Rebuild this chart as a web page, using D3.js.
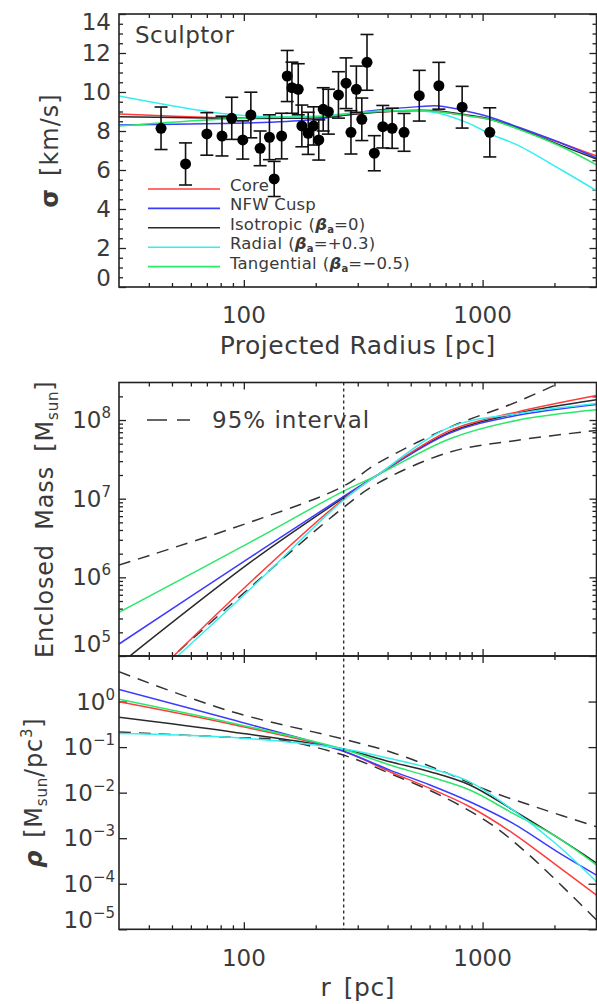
<!DOCTYPE html>
<html><head><meta charset="utf-8">
<script src="https://cdn.jsdelivr.net/npm/d3@7"></script>
<style>
body{margin:0;background:#fff}
text{font-family:"DejaVu Sans",sans-serif;fill:#3a3a3a}
</style>
</head><body>
<svg id="c" width="597" height="1004"></svg>
<script>
// ---------- DATA ----------
// Panel 1: projected velocity dispersion (Sculptor)
const sigmaRadius = [45,57,70,81,89,99,107,117,128,134,144,152,159,169,175,186,196,206,215,226,249,268,281,296,312,328,352,382,418,469,543,656,821,1072];
const sigmaValue  = [8.14,6.31,7.85,7.74,8.65,7.54,8.82,7.11,7.68,5.54,7.74,10.82,10.22,10.14,8.26,7.88,8.26,7.54,9.11,8.99,9.85,10.45,7.93,10.14,8.60,11.52,6.86,8.22,8.14,7.93,9.81,10.32,9.22,7.93];
const sigmaError  = [1.09,1.08,1.09,1.02,1.08,0.98,1.17,0.89,1.15,0.90,1.17,1.31,1.31,1.31,1.07,1.08,0.98,1.03,1.11,1.15,1.19,1.30,1.11,1.19,1.09,1.43,0.90,1.09,1.03,0.97,1.30,1.20,1.07,1.26];

const sigmaGrid = [30,79,128,207,335,542,656,876,1062,1416,2141,3000];
const sigmaCore = [8.87,8.68,8.64,8.70,8.94,9.04,8.99,8.77,8.60,8.14,7.37,6.72];
const sigmaNFW  = [8.31,8.39,8.45,8.62,9.03,9.25,9.28,8.99,8.73,8.19,7.37,6.62];
const sigmaIso  = [8.73,8.66,8.66,8.68,8.94,9.06,9.03,8.81,8.63,8.12,7.25,6.56];
const sigmaRad  = [9.79,8.91,8.73,8.77,8.99,9.04,8.91,8.39,7.88,7.25,6.00,4.94];
const sigmaTan  = [8.26,8.60,8.70,8.73,8.99,9.04,8.99,8.77,8.60,8.09,7.19,6.26];

// Panel 2: enclosed mass
const massGrid  = [30,107,258,361,730,1385,3000];
const massCore  = [2.07e4,8.77e5,9.55e6,1.98e7,7.38e7,1.26e8,2.05e8];
const massNFW   = [1.42e5,1.82e6,1.04e7,1.98e7,6.82e7,1.14e8,1.58e8];
const massIso   = [7.76e4,1.57e6,1.00e7,1.98e7,7.01e7,1.21e8,1.81e8];
const massRad   = [2.09e4,7.23e5,9.27e6,1.98e7,8.13e7,1.20e8,1.62e8];
const massTan   = [3.59e5,2.82e6,1.22e7,1.98e7,5.79e7,9.89e7,1.35e8];
const massHi    = [1.43e6,5.06e6,1.41e7,2.79e7,8.13e7,1.69e8,4.89e8];
const massLo    = [2.40e4,7.57e5,7.48e6,1.55e7,3.92e7,5.51e7,7.38e7];

// Panel 3: density
const rhoGrid   = [30,88,253,409,602,884,1341,2035,3000];
const rhoCore   = [0.990,0.321,0.0861,0.0288,0.0124,0.0049,0.00128,2.57e-4,5.65e-5];
const rhoNFW    = [1.85,0.407,0.0861,0.0313,0.0147,0.00631,0.00212,5.22e-4,1.55e-4];
const rhoIso    = [0.45,0.217,0.0939,0.0477,0.0288,0.0147,0.00415,0.00108,2.85e-4];
const rhoRad    = [0.20,0.164,0.0939,0.0561,0.0342,0.0173,0.00415,7.44e-4,1.11e-4];
const rhoTan    = [1.12,0.343,0.0939,0.0404,0.0223,0.0114,0.00351,0.00108,2.57e-4];
const rhoHiGrid = [30,88,253,409,661,1039,1738,3000];
const rhoHi     = [4.51,0.609,0.156,0.0791,0.0313,0.0114,0.00452,0.00178];
const rhoLoGrid = [30,88,142,261,409,684,1072,1567,3000];
const rhoLo     = [0.214,0.164,0.143,0.0669,0.0265,0.00813,0.00212,4.27e-4,1.6e-5];

const rHalf = 262; // dotted vertical line (pc)

const modelNames = ["Core","NFW Cusp","Isotropic","Radial","Tangential"];
const betaLabels = [null,null,"=0","=+0.3","=\u22120.5"];
const xTickLabels = [100,1000];
const sigmaTicks = [0,2,4,6,8,10,12,14];
const massTickExp = [5,6,7,8];
const rhoTickExp = [0,-1,-2,-3,-4,-5];

// ---------- LAYOUT ----------
const colors = ["#ff3c3c","#3c3cff","#2a2a2a","#36eeee","#2ae86a"];
const X0 = 119, X1 = 596.5;
const P1 = {top:14, bottom:287}, P2 = {top:382.5, bottom:656}, P3 = {top:656, bottom:929.3};
const svg = d3.select("#c");
const x = d3.scaleLog().domain([30,3000]).range([X0,X1]);
const ySig = d3.scaleLinear().domain([0,14]).range([P1.bottom,P1.top]);
const yMass = d3.scaleLog().domain([1e5,3e8]).range([P2.bottom,P2.top]);
const yRho = d3.scaleLog().domain([1e-5,10]).range([P3.bottom,P3.top]);
const AX = "#222";

function clip(id,p){
  svg.append("clipPath").attr("id",id).append("rect")
    .attr("x",X0).attr("y",p.top).attr("width",X1-X0).attr("height",p.bottom-p.top);
}
clip("c1",P1); clip("c2",P2); clip("c3",P3);

const xMajor=[100,1000], xMinor=[40,50,60,70,80,90,200,300,400,500,600,700,800,900,2000];
function xTicks(p){
  [[xMajor,7],[xMinor,4]].forEach(([vals,len])=>{
    svg.append("g").attr("transform",`translate(0,${p.bottom})`)
      .call(d3.axisBottom(x).tickValues(vals).tickSize(-len).tickFormat(""))
      .call(g=>{g.select(".domain").remove();g.selectAll("line").attr("stroke",AX).attr("stroke-width",1.3);});
    svg.append("g").attr("transform",`translate(0,${p.top})`)
      .call(d3.axisTop(x).tickValues(vals).tickSize(-len).tickFormat(""))
      .call(g=>{g.select(".domain").remove();g.selectAll("line").attr("stroke",AX).attr("stroke-width",1.3);});
  });
}
function yTicks(scale,major,minor,lenMaj){
  [[major,lenMaj],[minor,4]].forEach(([vals,len])=>{
    if(!vals.length) return;
    svg.append("g").attr("transform",`translate(${X0},0)`)
      .call(d3.axisLeft(scale).tickValues(vals).tickSize(-len).tickFormat(""))
      .call(g=>{g.select(".domain").remove();g.selectAll("line").attr("stroke",AX).attr("stroke-width",1.3);});
    svg.append("g").attr("transform",`translate(${X1},0)`)
      .call(d3.axisRight(scale).tickValues(vals).tickSize(-len).tickFormat(""))
      .call(g=>{g.select(".domain").remove();g.selectAll("line").attr("stroke",AX).attr("stroke-width",1.3);});
  });
}
function frame(p){
  svg.append("rect").attr("x",X0).attr("y",p.top).attr("width",X1-X0).attr("height",p.bottom-p.top)
    .attr("fill","none").attr("stroke",AX).attr("stroke-width",1.6);
}
function curve(grid,vals,ys,clipId,color,dash,w){
  const line = d3.line().x(d=>x(d[0])).y(d=>ys(d[1])).curve(d3.curveCatmullRom.alpha(0.5));
  svg.append("path").attr("d",line(grid.map((r,i)=>[r,vals[i]])))
    .attr("fill","none").attr("stroke",color).attr("stroke-width",w||1.5)
    .attr("stroke-dasharray",dash||null).attr("clip-path",`url(#${clipId})`);
}

// ---------- PANEL 1 ----------
xTicks(P1);
yTicks(ySig,sigmaTicks,d3.range(0.5,14,0.5).filter(v=>v%2!==0),7);
[sigmaCore,sigmaNFW,sigmaIso,sigmaRad,sigmaTan].forEach((s,i)=>curve(sigmaGrid,s,ySig,"c1",colors[i]));
const pts = svg.append("g");
sigmaRadius.forEach((r,i)=>{
  const cx=x(r), y0=ySig(sigmaValue[i]-sigmaError[i]), y1=ySig(sigmaValue[i]+sigmaError[i]);
  pts.append("line").attr("x1",cx).attr("x2",cx).attr("y1",y0).attr("y2",y1).attr("stroke","#111").attr("stroke-width",1.6);
  [y0,y1].forEach(yy=>pts.append("line").attr("x1",cx-6.5).attr("x2",cx+6.5).attr("y1",yy).attr("y2",yy).attr("stroke","#111").attr("stroke-width",1.6));
  pts.append("circle").attr("cx",cx).attr("cy",ySig(sigmaValue[i])).attr("r",5.5).attr("fill","#000");
});
frame(P1);
svg.append("text").attr("x",135).attr("y",43).attr("font-size",23).attr("letter-spacing",0.5).text("Sculptor");
// legend
modelNames.forEach((n,i)=>{
  const ly = 189 + i*19.4;
  svg.append("line").attr("x1",148).attr("x2",220).attr("y1",ly).attr("y2",ly).attr("stroke",colors[i]).attr("stroke-width",1.6);
  const t = svg.append("text").attr("x",230).attr("y",ly+2).attr("font-size",16.5).attr("letter-spacing",0.2);
  t.append("tspan").text(n);
  if(betaLabels[i]){
    t.append("tspan").attr("dx",6).text("(");
    t.append("tspan").attr("font-weight","bold").attr("font-style","italic").text("\u03b2");
    t.append("tspan").attr("font-size",10).attr("font-weight","bold").attr("dy",3).text("a");
    t.append("tspan").attr("dy",-3).text(betaLabels[i]+")");
  }
});
sigmaTicks.forEach(v=>{
  let yy = ySig(v)+8;
  if(v===0) yy -= 9; if(v===14) yy += 8;
  svg.append("text").attr("x",111).attr("y",yy).attr("text-anchor","end").attr("font-size",23).text(v);
});
xTickLabels.forEach(v=>svg.append("text").attr("x",x(v)).attr("y",P1.bottom+36).attr("text-anchor","middle").attr("font-size",23).text(v));
svg.append("text").attr("x",(X0+X1)/2).attr("y",P1.bottom+67).attr("text-anchor","middle").attr("font-size",25).attr("letter-spacing",0.5).text("Projected Radius [pc]");
{
  const t = svg.append("text").attr("transform",`translate(58,${(P1.top+P1.bottom)/2}) rotate(-90)`).attr("text-anchor","middle").attr("font-size",24).attr("letter-spacing",1);
  t.append("tspan").attr("font-weight","bold").text("\u03c3");
  t.append("tspan").attr("dx",12).text("[km/s]");
}

// ---------- PANEL 2 ----------
const massMinor=[];
[1e5,1e6,1e7,1e8].forEach(d=>d3.range(2,10).forEach(k=>{if(d*k<3e8) massMinor.push(d*k);}));
xTicks(P2);
yTicks(yMass,[1e5,1e6,1e7,1e8],massMinor,7);
curve(massGrid,massHi,yMass,"c2","#333","12,8",1.5);
curve(massGrid,massLo,yMass,"c2","#333","12,8",1.5);
[massIso,massNFW,massTan,massCore,massRad].forEach((m,j)=>{
  const idx=[2,1,4,0,3][j];
  curve(massGrid,m,yMass,"c2",colors[idx]);
});
frame(P2);
massTickExp.forEach(e=>{
  let yy = yMass(Math.pow(10,e))+8; if(e===5) yy-=12;
  const t=svg.append("text").attr("x",111).attr("y",yy).attr("text-anchor","end").attr("font-size",23);
  t.append("tspan").text("10");
  t.append("tspan").attr("dy",-10).attr("font-size",15).text(e);
});
svg.append("line").attr("x1",147).attr("x2",190).attr("y1",420).attr("y2",420).attr("stroke","#333").attr("stroke-width",1.5).attr("stroke-dasharray","20,10");
svg.append("text").attr("x",212).attr("y",428).attr("font-size",23).attr("letter-spacing",1).text("95% interval");
{
  const t = svg.append("text").attr("transform",`translate(53,${(P2.top+P2.bottom)/2}) rotate(-90)`).attr("text-anchor","middle").attr("font-size",24).attr("letter-spacing",0.8).attr("word-spacing",6);
  t.append("tspan").text("Enclosed Mass [M");
  t.append("tspan").attr("font-size",15).attr("dy",5).text("sun");
  t.append("tspan").attr("dy",-5).text("]");
}

// ---------- PANEL 3 ----------
xTicks(P3);
yTicks(yRho,rhoTickExp.map(e=>Math.pow(10,e)),[],8);
curve(rhoHiGrid,rhoHi,yRho,"c3","#333","12,8",1.5);
curve(rhoLoGrid,rhoLo,yRho,"c3","#333","12,8",1.5);
[rhoIso,rhoCore,rhoNFW,rhoTan,rhoRad].forEach((m,j)=>{
  const idx=[2,0,1,4,3][j];
  curve(rhoGrid,m,yRho,"c3",colors[idx]);
});
frame(P3);
svg.append("line").attr("x1",x(rHalf)).attr("x2",x(rHalf)).attr("y1",P2.top).attr("y2",P3.bottom)
  .attr("stroke","#222").attr("stroke-width",1.3).attr("stroke-dasharray","3,3");
rhoTickExp.forEach(e=>{
  let yy = yRho(Math.pow(10,e))+8; if(e===-5) yy-=9;
  const t=svg.append("text").attr("x",115).attr("y",yy).attr("text-anchor","end").attr("font-size",23);
  t.append("tspan").text("10");
  t.append("tspan").attr("dy",-10).attr("font-size",15).text(e===0?"0":"\u2212"+(-e));
});
xTickLabels.forEach(v=>svg.append("text").attr("x",x(v)).attr("y",P3.bottom+37).attr("text-anchor","middle").attr("font-size",23).text(v));
svg.append("text").attr("x",(X0+X1)/2).attr("y",P3.bottom+67).attr("text-anchor","middle").attr("font-size",25).attr("letter-spacing",0.5).attr("word-spacing",4).text("r [pc]");
{
  const t = svg.append("text").attr("transform",`translate(42,${(P3.top+P3.bottom)/2}) rotate(-90)`).attr("text-anchor","middle").attr("font-size",24).attr("letter-spacing",0.8);
  t.append("tspan").attr("font-weight","bold").attr("font-style","italic").text("\u03c1");
  t.append("tspan").attr("dx",12).text("[M");
  t.append("tspan").attr("font-size",15).attr("dy",5).text("sun");
  t.append("tspan").attr("dy",-5).text("/pc");
  t.append("tspan").attr("font-size",15).attr("dy",-10).text("3");
  t.append("tspan").attr("dy",10).text("]");
}
</script>
</body></html>
